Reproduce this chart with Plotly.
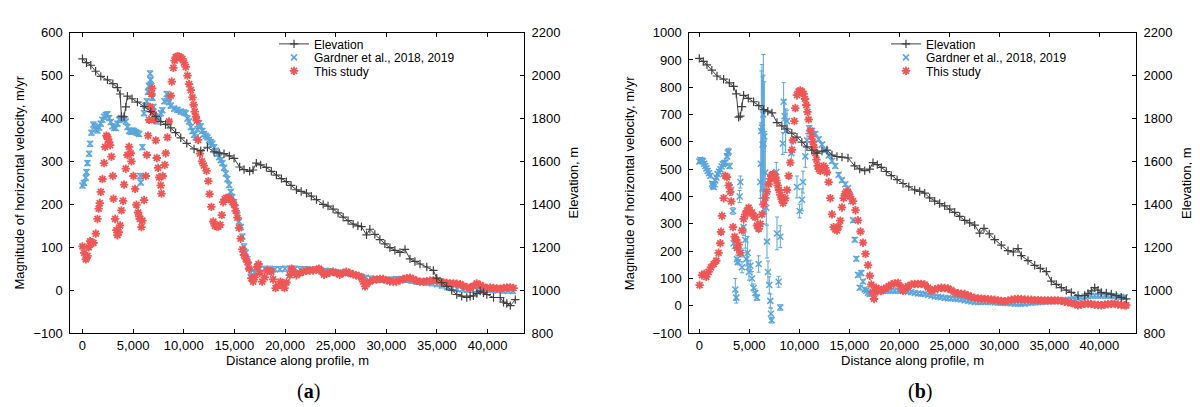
import plotly.graph_objects as go

# ---------------- Panel (a) ----------------
elev_a_x = [0, 400, 822, 1300, 1810, 2470, 3000, 3455, 3718, 3850, 4110, 4277, 4440, 4900, 5430, 6100, 6745,
            7250, 7730, 8200, 8720, 9200, 9705, 10300, 11020, 11680, 12340, 13000, 13500, 13980, 14500, 14970,
            15520, 15960, 16510, 16840, 17170, 17600, 18160, 18650, 19150, 19650, 20140, 20600, 21130, 21600,
            22120, 22600, 23110, 23770, 24250, 24750, 25240, 25740, 26230, 26730, 27200, 27550, 28050, 28380,
            28870, 29370, 29860, 30360, 30850, 31350, 31850, 32340, 32830, 33330, 34000, 34650, 34980, 35470,
            35970, 36460, 36960, 37450, 37950, 38280, 38600, 38950, 39270, 39600, 39930, 40590, 41250, 41580,
            41900, 42250, 42740]
elev_a = [2078, 2060, 2048, 2020, 1996, 1980, 1962, 1944, 1914, 1808, 1808, 1854, 1904, 1892, 1876, 1856, 1832,
          1810, 1786, 1772, 1756, 1734, 1710, 1684, 1658, 1650, 1666, 1644, 1640, 1636, 1626, 1614,
          1574, 1562, 1554, 1560, 1592, 1584, 1572, 1554, 1536, 1520, 1506, 1488, 1468, 1460,
          1452, 1438, 1422, 1400, 1392, 1378, 1360, 1340, 1324, 1308, 1300, 1296, 1258, 1284,
          1260, 1236, 1216, 1198, 1186, 1176, 1190, 1146, 1134, 1122, 1108, 1092, 1056, 1036,
          1018, 1000, 980, 972, 966, 972, 974, 984, 996, 988, 980, 966, 966, 944,
          938, 928, 956]

gard_a_x = [0, 150, 330, 400, 493, 658, 757, 888, 1085, 1200, 1316, 1480, 1645, 1800, 1974, 2138, 2303, 2470,
            2632, 2800, 2961, 3130, 3290, 3455, 3620, 3780, 3948, 4110, 4277, 4440, 4606, 4770, 4936, 5100,
            5265, 5430, 5593, 5700, 5757, 5922, 6086, 6220, 6350, 6480, 6580, 6680, 6720, 6810, 6910, 7008,
            7200, 7400, 7570, 7730, 7900, 8100, 8320, 8450, 8550, 8720, 9050, 9380, 9700, 10030, 10200, 10370,
            10530, 10700, 10860, 11030, 11190, 11350, 11515, 11680, 11845, 12000, 12170, 12340, 12500, 12670,
            12830, 13000, 13160, 13325, 13500, 13650, 13820, 13980, 14150, 14310, 14480, 14640, 14800, 14970,
            15130, 15300, 15460, 15630, 15800, 15960, 16120, 16290, 16450, 16610, 16840, 17000, 17200, 17500,
            18000, 18500, 19000, 19500, 20000, 20500, 21000, 21500, 22000, 22500, 23000, 23500, 24000, 24500,
            25000, 25500, 26000, 26500, 27000, 27500, 28000, 28500, 29000, 29500, 30000, 30500, 31000, 31500,
            32000, 32500, 33000, 33500, 34000, 34500, 35000, 35500, 36000, 36500, 37000, 37500, 38000, 38500,
            39000, 39500, 40000, 40500, 41000, 41500, 42000, 42500]
gard_a = [244, 250, 262, 275, 296, 318, 341, 367, 386, 382, 375, 372, 379, 388, 397, 404, 408, 410,
          401, 392, 382, 378, 378, 388, 397, 401, 401, 398, 393, 380, 371, 369, 372, 371,
          368, 366, 364, 266, 251, 333, 412, 430, 440, 462, 476, 505, 490, 476, 448, 427,
          405, 393, 400, 412, 419, 440, 457, 445, 438, 430, 423, 420, 416, 414, 412, 400,
          393, 380, 371, 362, 356, 375, 389, 382, 371, 364, 360, 356, 350, 345,
          341, 333, 325, 318, 310, 303, 296, 285, 272, 259, 245, 229, 217, 205,
          192, 175, 160, 147, 125, 102, 88, 72, 58, 42, 28, 40, 50, 50,
          50, 50, 49, 49, 50, 50, 50, 49, 49, 48, 48, 47, 45, 44,
          42, 41, 40, 38, 35, 31, 29, 27, 25, 24, 24, 25, 26, 26,
          24, 22, 20, 19, 18, 16, 14, 11, 7, 5, 3, 2, 1, 1,
          1, 1, 1, 0, 0, -1, -1, -2]
gard_a_err = [6] * len(gard_a)

this_a_x = [0, 165, 330, 420, 493, 620, 757, 900, 1085, 1316, 1480, 1600, 1711, 1810, 1974, 2138, 2237, 2369,
            2450, 2533, 2631, 2731, 2862, 2994, 3060, 3224, 3350, 3455, 3580, 3718, 3850, 4014, 4110, 4277,
            4440, 4606, 4770, 4836, 5034, 5198, 5330, 5494, 5600, 5660, 5823, 5922, 6086, 6250, 6350, 6481,
            6580, 6680, 6810, 6880, 6942, 7073, 7240, 7338, 7470, 7570, 7730, 7800, 7930, 8125, 8225, 8390,
            8550, 8720, 8820, 8980, 9100, 9210, 9380, 9540, 9700, 9870, 10030, 10200, 10370, 10530, 10700,
            10860, 10980, 11090, 11200, 11290, 11420, 11610, 11800, 11990, 12250, 12430, 12550, 12730, 12920,
            13080, 13250, 13420, 13600, 13760, 13900, 14050, 14200, 14330, 14480, 14640, 14800, 14970, 15130,
            15300, 15460, 15620, 15790, 15950, 16120, 16300, 16450, 16680, 16850, 17000, 17240, 17380, 17500,
            17750, 18000, 18250, 18490, 18650, 18820, 19070, 19320, 19550, 19750, 19950, 20140, 20470, 20650,
            20800, 21130, 21460, 21800, 22120, 22450, 22780, 23110, 23350, 23600, 23850, 24100, 24420, 24750,
            25080, 25400, 25740, 26050, 26400, 26730, 27000, 27300, 27550, 27720, 27900, 28050, 28380, 28700,
            29050, 29370, 29700, 30030, 30360, 30690, 31000, 31350, 31680, 32010, 32340, 32670, 33000, 33330,
            33660, 34000, 34320, 34650, 34980, 35300, 35650, 35970, 36300, 36630, 36960, 37300, 37620, 37950,
            38280, 38600, 38930, 39270, 39600, 39930, 40250, 40590, 40920, 41250, 41580, 41910, 42250, 42570]
this_a = [102, 87, 72, 76, 80, 100, 114, 112, 110, 132, 166, 190, 203, 229, 259, 296, 334, 360,
          357, 352, 345, 338, 311, 266, 213, 166, 140, 128, 135, 151, 186, 208, 246, 283,
          315, 334, 319, 300, 266, 236, 199, 181, 172, 166, 147, 162, 210, 266, 315, 360,
          397, 427, 457, 470, 415, 397, 349, 308, 285, 263, 244, 225, 266, 292, 319, 356,
          393, 453, 486, 518, 535, 543, 545, 544, 542, 539, 530, 520, 500, 480, 466,
          449, 432, 416, 404, 395, 350, 318, 300, 290, 278, 254, 224, 194, 160,
          150, 148, 148, 152, 175, 205, 212, 215, 215, 214, 210, 205, 199, 185, 169,
          145, 120, 95, 82, 73, 65, 50, 28, 20, 30, 54, 61, 40, 20,
          30, 46, 45, 43, 25, 5, 12, 20, 10, 5, 18, 35, 50, 42,
          35, 40, 43, 45, 46, 46, 48, 50, 44, 36, 38, 41, 43, 40,
          36, 40, 43, 40, 37, 35, 33, 30, 20, 9, 14, 20, 24, 25,
          26, 26, 23, 21, 20, 20, 23, 26, 28, 29, 26, 22, 20, 20,
          21, 22, 23, 22, 20, 18, 17, 16, 16, 15, 14, 10, 7, 5,
          10, 16, 12, 8, 5, 6, 5, 4, 3.5, 5, 6, 6.5, 5, 3.5]

# ---------------- Panel (b) ----------------
elev_b_x = [0, 400, 767, 1250, 1767, 2433, 3000, 3433, 3700, 3933, 4100, 4267, 4433, 4900, 5433, 5950, 6433,
            6850, 7267, 7767, 8250, 8767, 9250, 9767, 10250, 10767, 11250, 11767, 12267, 12767, 13267, 13767,
            14270, 14870, 15540, 16040, 16540, 17040, 17370, 17800, 18200, 18700, 19200, 19780, 20370, 20950,
            21540, 22040, 22540, 23040, 23540, 24040, 24540, 25040, 25540, 26040, 26540, 27040, 27540, 28040,
            28470, 29000, 29540, 30200, 30870, 31400, 31870, 32200, 32870, 33540, 34100, 34700, 35200, 35700,
            36200, 36700, 37200, 37870, 38540, 38870, 39200, 39540, 39870, 40200, 40700, 41200, 41700, 42200,
            42700]
elev_b = [2080, 2066, 2050, 2025, 1998, 1983, 1966, 1950, 1915, 1806, 1811, 1855, 1908, 1894, 1878, 1860, 1841,
          1834, 1826, 1781, 1766, 1751, 1732, 1713, 1690, 1668, 1652, 1638, 1648, 1653, 1630, 1623,
          1620, 1616, 1579, 1565, 1557, 1564, 1594, 1585, 1572, 1553, 1534, 1515, 1497, 1482,
          1467, 1460, 1452, 1430, 1415, 1404, 1393, 1378, 1363, 1344, 1325, 1314, 1303, 1266,
          1288, 1262, 1236, 1210, 1184, 1178, 1194, 1161, 1138, 1116, 1102, 1087, 1042, 1027,
          1012, 1000, 990, 975, 975, 985, 997, 1012, 1000, 990, 986, 982, 975, 967,
          960]

gard_b_x = [0, 100, 233, 367, 483, 600, 717, 833, 967, 1100, 1267, 1350, 1433, 1517, 1600, 1717, 1833, 1967,
            2100, 2233, 2367, 2483, 2600, 2767, 2850, 2933, 3033, 3167, 3367, 3433, 3600, 3700, 3767, 3850,
            4033, 4100, 4167, 4267, 4433, 4600, 4700, 4833, 4967, 5100, 5267, 5433, 5600, 5767, 5933, 6100,
            6150, 6200, 6267, 6333, 6400, 6433, 6500, 6600, 6700, 6767, 6867, 7000, 7100, 7167, 7233, 7700,
            7767, 7933, 8100, 8100, 8350, 8433, 8533, 8633, 8767, 9200, 9767, 10033, 10267, 10367, 10600,
            10767, 11000, 11267, 11600, 11933, 12267, 12600, 12933, 13267, 13600, 13933, 14267, 14600, 14870,
            15040, 15200, 15370, 15540, 15700, 15870, 16040, 16200, 16370, 16530, 16700, 16870, 17040, 17290,
            17540, 17870, 18200, 18540, 18870, 19200, 19540, 19870, 20200, 20540, 20870, 21200, 21540, 21870,
            22200, 22540, 22870, 23200, 23540, 23870, 24200, 24540, 24870, 25200, 25540, 25870, 26200, 26540,
            26870, 27200, 27540, 27870, 28200, 28540, 28870, 29200, 29540, 29870, 30200, 30540, 30870, 31200,
            31540, 31870, 32200, 32540, 32870, 33200, 33540, 33870, 34200, 34540, 34870, 35200, 35540, 35870,
            36200, 36540, 36870, 37200, 37540, 37870, 38200, 38540, 38870, 39200, 39540, 39870, 40200, 40540,
            40870, 41200, 41540, 41870, 42200, 42540]
gard_b = [528, 535, 532, 529, 520, 512, 503, 494, 485, 476, 447, 440, 435, 445, 459, 470, 482, 491,
          500, 510, 518, 522, 524, 547, 560, 565, 512, 424, 347, 229, 60, 30, 171, 160,
          400, 453, 194, 141, 288, 241, 171, 194, 124, 147, 100, 65, 47, 30, 153, 453,
          520, 640, 653, 590, 700, 594, 620, 488, 359, 235, 124, 76, 18, -29, -53, 490,
          265, 88, -6, 253, 594, 747, 694, 641, 676, 559, 435, 347, 388, 453, 547,
          606, 650, 641, 630, 610, 590, 570, 550, 530, 512, 480, 460, 445, 430,
          405, 383, 313, 242, 172, 113, 66, 120, 89, 60, 55, 48, 43, 46,
          49, 52, 54, 55, 55, 55, 55, 55, 55, 55, 52, 50, 47, 45,
          44, 43, 40, 37, 34, 33, 31, 29, 28, 27, 26, 25, 23, 20,
          18, 16, 14, 14, 14, 14, 14, 14, 12, 11, 10, 10, 10, 9,
          8, 8, 8, 8, 10, 11, 12, 13, 14, 15, 16, 17, 17, 17,
          19, 21, 22, 23, 24, 28, 31, 33, 35, 37, 37, 37, 37, 37,
          37, 36, 35, 33, 32, 31]
gard_b_err = [8, 8, 8, 8, 8, 8, 8, 8, 8, 8, 8, 8, 8, 8, 8, 8, 8, 8,
              8, 8, 8, 8, 8, 10, 12, 12, 10, 20, 12, 20, 40, 20, 15, 10,
              22, 22, 15, 20, 30, 30, 25, 60, 30, 20, 25, 15, 15, 10, 30, 60,
              150, 220, 230, 250, 220, 250, 200, 150, 60, 60, 40, 30, 25, 20, 10, 35,
              60, 20, 10, 40, 40, 70, 60, 80, 40, 40, 40, 25, 40, 40, 40,
              25, 10, 8, 8, 8, 8, 8, 8, 8, 8, 8, 8, 8, 8,
              8, 8, 8, 8, 8, 8, 8, 10, 8, 8, 8, 8, 8, 6,
              6, 6, 6, 6, 6, 6, 6, 6, 6, 6, 6, 6, 6, 6,
              6, 6, 6, 6, 6, 6, 6, 6, 6, 6, 6, 6, 6, 6,
              6, 6, 6, 6, 6, 6, 6, 6, 6, 6, 6, 6, 6, 6,
              6, 6, 6, 6, 6, 6, 6, 6, 6, 6, 6, 6, 6, 6,
              6, 6, 6, 6, 6, 6, 6, 6, 6, 6, 6, 6, 6, 6,
              6, 6, 6, 6, 6, 6]

this_b_x = [33, 267, 500, 700, 933, 1167, 1433, 1700, 1933, 2100, 2167, 2267, 2433, 2600, 2767, 2933, 3100,
            3200, 3367, 3533, 3700, 3767, 3933, 4100, 4267, 4433, 4600, 4767, 4933, 5100, 5267, 5433, 5600,
            5767, 5933, 6100, 6267, 6433, 6600, 6767, 6933, 7100, 7233, 7367, 7483, 7600, 7717, 7833, 7967,
            8100, 8233, 8367, 8483, 8600, 8767, 8933, 9100, 9267, 9367, 9500, 9600, 9767, 9933, 10100, 10267,
            10433, 10567, 10700, 10817, 10933, 11100, 11233, 11367, 11483, 11600, 11717, 11833, 11967, 12100,
            12267, 12433, 12600, 12767, 12933, 13100, 13267, 13433, 13600, 13767, 13933, 14100, 14267, 14433,
            14567, 14700, 14870, 15100, 15370, 15620, 15870, 16120, 16370, 16620, 16870, 17050, 17200, 17350,
            17470, 17600, 17700, 17950, 18200, 18450, 18700, 18950, 19200, 19530, 19870, 20120, 20370, 20620,
            20870, 21200, 21540, 21870, 22200, 22540, 22870, 23200, 23540, 23870, 24200, 24540, 24870, 25200,
            25540, 25870, 26200, 26540, 26870, 27200, 27540, 27870, 28200, 28540, 28870, 29200, 29540, 29870,
            30200, 30540, 30870, 31200, 31540, 31870, 32200, 32540, 32870, 33200, 33540, 33870, 34200, 34540,
            34870, 35200, 35540, 35870, 36200, 36540, 36870, 37200, 37540, 37870, 38200, 38540, 38870, 39200,
            39540, 39870, 40200, 40540, 40870, 41200, 41540, 41870, 42200, 42540, 42700]
this_b = [76, 112, 118, 106, 124, 141, 153, 165, 194, 229, 271, 329, 394, 476, 471, 441, 418,
          382, 288, 253, 241, 212, 224, 194, 276, 318, 335, 347, 359, 341, 341, 329, 324,
          294, 282, 300, 335, 371, 395, 418, 445, 465, 478, 482, 478, 471, 458, 441, 424,
          406, 390, 376, 385, 394, 424, 476, 524, 571, 606, 676, 724, 771, 785, 788, 784,
          776, 757, 735, 710, 682, 641, 620, 600, 580, 559, 535, 512, 500, 494,
          505, 512, 505, 488, 453, 394, 335, 288, 280, 276, 290, 312, 360, 394,
          410, 418, 418, 400, 383, 350, 313, 272, 231, 190, 149, 110, 78, 50,
          25, 50, 66, 60, 55, 62, 66, 72, 78, 82, 84, 70, 55, 64,
          72, 78, 80, 80, 80, 78, 67, 55, 60, 64, 66, 65, 64, 57,
          49, 46, 44, 43, 38, 33, 29, 27, 26, 25, 24, 23, 22, 20,
          18, 17, 19, 22, 24, 25, 24, 23, 22, 22, 21, 21, 20, 20,
          20, 20, 20, 20, 18, 15, 13, 10, 6, 2, 5, 7, 8, 6,
          4, 3, 2, 4, 6, 7, 8, 5, 3, 2, 2]

# ---------------- Styling ----------------
W, H = 1200, 407
FONT = "Liberation Sans, Arial, Helvetica, sans-serif"
C_ELEV = "#404040"
C_GARD = "#5aa5dc"
C_THIS = "#ef5656"

# plot areas in pixels: (left, right, top, bottom)
PA = (62.3, 516.0, 18.3, 330.3)
PB = (681.3, 1128.0, 18.3, 330.3)


def dom_x(p):
    return [p[0] / W, p[1] / W]


def dom_y(p):
    return [1 - p[3] / H, 1 - p[2] / H]


fig = go.Figure()


def add_panel(xa, ya_left, ya_right, legs, ex, ey, gx, gy, ge, tx, ty):
    fig.add_trace(go.Scatter(
        x=ex, y=ey, name="Elevation", mode="lines+markers",
        line=dict(color=C_ELEV, width=1),
        marker=dict(symbol="cross-thin", size=6, line=dict(color=C_ELEV, width=1.2)),
        xaxis=xa, yaxis=ya_right, legend=legs[0]))
    fig.add_trace(go.Scatter(
        x=gx, y=gy, name="Gardner et al., 2018, 2019", mode="markers",
        marker=dict(symbol="x-thin", size=6, color=C_GARD, line=dict(color=C_GARD, width=1.5)),
        error_y=dict(type="data", array=ge, visible=True, color=C_GARD, thickness=1, width=2),
        xaxis=xa, yaxis=ya_left, legend=legs[1]))
    fig.add_trace(go.Scatter(
        x=tx, y=ty, name="This study", mode="markers",
        marker=dict(symbol="asterisk", size=7, color=C_THIS, line=dict(color=C_THIS, width=1.8)),
        xaxis=xa, yaxis=ya_left, legend=legs[2]))


add_panel("x", "y", "y2", ["legend", "legend2", "legend3"],
          elev_a_x, elev_a, gard_a_x, gard_a, gard_a_err, this_a_x, this_a)
add_panel("x2", "y3", "y4", ["legend4", "legend5", "legend6"],
          elev_b_x, elev_b, gard_b_x, gard_b, gard_b_err, this_b_x, this_b)

tickfont = dict(family=FONT, size=13, color="black")
common_x = dict(showgrid=False, zeroline=False, showline=True, linecolor="black", linewidth=1,
                mirror="ticks", ticks="inside", ticklen=4, tickcolor="black", tickfont=tickfont,
                tickformat=",d", dtick=5000, tick0=0, ticklabelstandoff=0)
common_y = dict(showgrid=False, zeroline=False, showline=True, linecolor="black", linewidth=1,
                ticks="inside", ticklen=4, tickcolor="black", tickfont=tickfont, ticklabelstandoff=4)


def leg(xpix, ypix):
    return dict(x=xpix / W, y=1 - ypix / H, xanchor="left", yanchor="middle", bgcolor="rgba(0,0,0,0)",
                font=dict(family=FONT, size=12, color="black"), itemwidth=30, borderwidth=0)


fig.update_layout(
    width=W, height=H, margin=dict(l=0, r=0, t=0, b=0),
    paper_bgcolor="white", plot_bgcolor="white",
    font=dict(family=FONT, size=13, color="black"),
    xaxis=dict(domain=dom_x(PA), range=[-1200, 43600], anchor="y", **common_x),
    yaxis=dict(domain=dom_y(PA), range=[-100, 600], dtick=100, anchor="x", **common_y),
    yaxis2=dict(range=[800, 2200], dtick=200, overlaying="y", side="right", anchor="x", **common_y),
    xaxis2=dict(domain=dom_x(PB), range=[-1000, 43670], anchor="y3", **common_x),
    yaxis3=dict(domain=dom_y(PB), range=[-100, 1000], dtick=100, anchor="x2", **common_y),
    yaxis4=dict(range=[800, 2200], dtick=200, overlaying="y3", side="right", anchor="x2", **common_y),
    legend=leg(266, 30), legend2=leg(266, 44), legend3=leg(266, 58),
    legend4=leg(878, 30), legend5=leg(878, 44), legend6=leg(878, 58),
    showlegend=True,
)

ann = []
lbl_font = dict(family=FONT, size=13, color="black")


def A(text, xp, yp, angle=0, font=lbl_font):
    return dict(text=text, x=xp / W, y=1 - yp / H, textangle=angle, showarrow=False,
                xref="paper", yref="paper", xanchor="center", yanchor="middle", font=font)


ann.append(A("Magnitude of horizontal velocity, m/yr", 11.6, 174.3, -90))
ann.append(A("Elevation, m", 565.5, 174.3, -90))
ann.append(A("Distance along profile, m", 289.2, 359))
ann.append(A("Magnitude of horizontal velocity, m/yr", 622.3, 174.3, -90))
ann.append(A("Elevation, m", 1179, 174.3, -90))
ann.append(A("Distance along profile, m", 904.6, 359))
serif = dict(family="Liberation Serif, Times New Roman, serif", size=20, color="black")
ann.append(A("(<b>a</b>)", 300, 391, 0, serif))
ann.append(A("(<b>b</b>)", 912, 391, 0, serif))
fig.update_layout(annotations=ann)

fig.write_html("out.html")
